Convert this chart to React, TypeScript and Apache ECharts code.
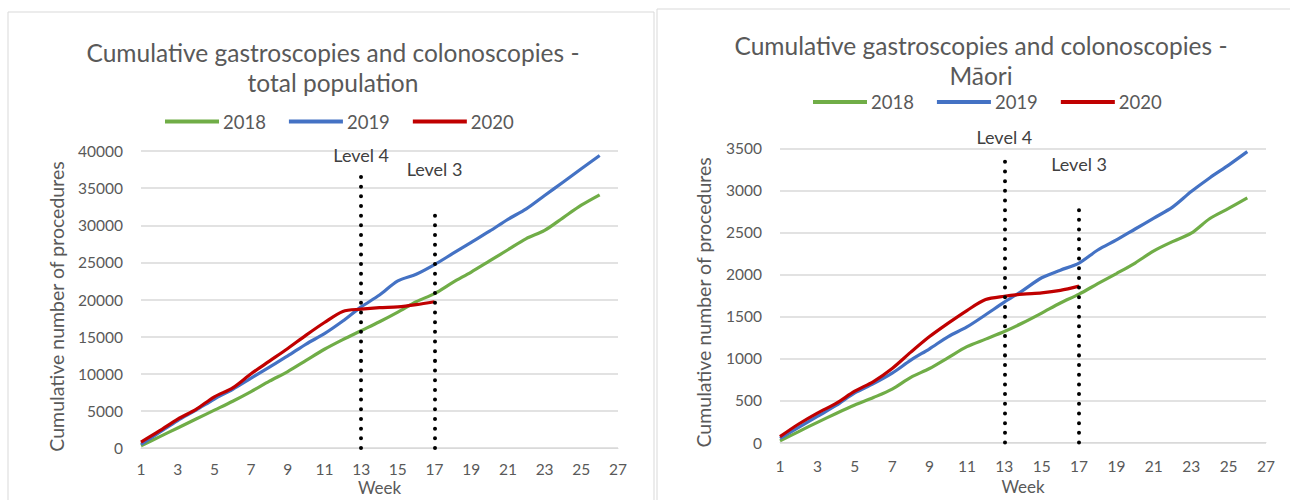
import React, { useEffect, useRef } from "react";
import * as echarts from "echarts";

const weeks = ["1","2","3","4","5","6","7","8","9","10","11","12","13","14","15","16","17","18","19","20","21","22","23","24","25","26","27"];
const seriesNames = ["2018", "2019", "2020"];

// Total population (cumulative procedures by week)
const total2018 = [300,1500,2700,3900,5100,6300,7600,9000,10300,11800,13300,14600,15800,17000,18300,19700,20800,22300,23700,25200,26700,28200,29300,31000,32700,34100];
const total2019 = [500,2100,3700,5100,6600,7900,9400,10900,12400,14000,15400,17100,19000,20600,22500,23400,24700,26200,27700,29200,30800,32200,34000,35800,37600,39400];
const total2020 = [800,2300,3900,5200,6900,8100,10000,11700,13400,15200,16900,18400,18700,18900,19000,19300,19700];

// Māori (cumulative procedures by week)
const maori2018 = [20,130,240,345,445,535,635,775,880,1010,1140,1230,1320,1425,1540,1660,1765,1890,2010,2135,2280,2390,2490,2665,2785,2910];
const maori2019 = [50,180,310,440,590,700,825,980,1115,1260,1375,1520,1670,1810,1960,2050,2135,2290,2410,2540,2670,2800,2985,3150,3300,3460];
const maori2020 = [70,220,350,465,610,725,880,1075,1260,1420,1570,1700,1740,1765,1780,1810,1860];

// Alert level markers: week, top of dotted line, value at label centre
const totalLevels = [
  { name: "Level 4", week: "13", top: 37600, labelAt: 39460 },
  { name: "Level 3", week: "17", top: 32300, labelAt: 37580 },
];
const maoriLevels = [
  { name: "Level 4", week: "13", top: 3430, labelAt: 3634 },
  { name: "Level 3", week: "17", top: 2865, labelAt: 3313 },
];

const colors = ["#70AD47", "#4472C4", "#C00000"];
const FONT = "Lato, sans-serif";
const GREY = "#595959";

function makeSeries(values: number[][], idx: number, levels: any[]) {
  return values.map((data, i) => {
    const s: any = {
      name: seriesNames[i],
      type: "line",
      xAxisIndex: idx,
      yAxisIndex: idx,
      data,
      smooth: 0.3,
      symbol: "none",
      lineStyle: { color: colors[i], width: 3.2 },
      itemStyle: { color: colors[i] },
      z: 2 + i,
    };
    if (i === 2) {
      s.markLine = {
        silent: true,
        symbol: ["none", "none"],
        label: { show: false },
        lineStyle: { color: "#000", width: 4, type: [0.01, 9.67], cap: "round" },
        data: levels.map((l) => [
          { coord: [l.week, 0] },
          { coord: [l.week, l.top] },
        ]),
      };
    }
    return s;
  });
}

function xAxis(idx: number, nameGap: number, margin: number) {
  return {
    type: "category",
    gridIndex: idx,
    data: weeks,
    boundaryGap: false,
    axisLine: { show: true, lineStyle: { color: "#d9d9d9", width: 1 } },
    axisTick: { show: false },
    axisLabel: { interval: 1, color: GREY, fontFamily: FONT, fontSize: 15.5, margin },
    splitLine: { show: false },
    name: "Week",
    nameLocation: "middle",
    nameGap,
    nameMoveOverlap: false,
    nameTextStyle: { color: GREY, fontFamily: FONT, fontSize: 17 },
  };
}

function yAxis(idx: number, max: number, interval: number, nameGap: number) {
  return {
    type: "value",
    gridIndex: idx,
    min: 0,
    max,
    interval,
    axisLine: { show: false },
    axisTick: { show: false },
    axisLabel: { color: GREY, fontFamily: FONT, fontSize: 15.5, margin: 18, formatter: (v: number) => String(v) },
    splitLine: { lineStyle: { color: "#d9d9d9", width: 1.5 } },
    name: "Cumulative number of procedures",
    nameLocation: "middle",
    nameRotate: 90,
    nameGap,
    nameTextStyle: { color: GREY, fontFamily: FONT, fontSize: 19.5, padding: [0, 14, 0, 0] },
  };
}

function legend(left: number, top: number) {
  return {
    data: seriesNames,
    left,
    top,
    padding: 0,
    icon: "rect",
    itemWidth: 54,
    itemHeight: 4,
    itemGap: 23,
    textStyle: { color: GREY, fontFamily: FONT, fontSize: 18.5, lineHeight: 16, padding: [0, 0, 0, -1] },
  };
}

function titleText(id: string, text: string, x: number, y: number) {
  return {
    id,
    type: "text",
    x,
    y,
    style: { text, fill: GREY, font: "24.5px Lato, sans-serif", textAlign: "center", textVerticalAlign: "middle", lineHeight: 22 },
  };
}

export default function App() {
  const ref = useRef<HTMLDivElement>(null);
  useEffect(() => {
    document.body.style.margin = "0";
    if (!ref.current) return;
    const chart = echarts.init(ref.current, null, { renderer: "svg" });
    const baseGraphic: any[] = [
      { id: "frameL", type: "rect", z: -10, shape: { x: 8, y: 12, width: 646, height: 520 }, style: { fill: "#fff", stroke: "#d9d9d9", lineWidth: 1 } },
      { id: "frameR", type: "rect", z: -9, shape: { x: 657, y: 9, width: 660, height: 520 }, style: { fill: "#fff", stroke: "#d9d9d9", lineWidth: 1 } },
      titleText("t1a", "Cumulative gastroscopies and colonoscopies -", 333, 52),
      titleText("t1b", "total population", 333, 82),
      titleText("t2a", "Cumulative gastroscopies and colonoscopies -", 981, 45),
      titleText("t2b", "Māori", 981, 75),
    ];
    chart.setOption({
      animation: false,
      backgroundColor: "#ffffff",
      graphic: baseGraphic,
      legend: [legend(165, 112), legend(813, 92.5)],
      grid: [
        { left: 141, top: 151, width: 477, height: 297, outerBoundsMode: "none", containLabel: false },
        { left: 780, top: 148.3, width: 486, height: 294.2, outerBoundsMode: "none", containLabel: false },
      ],
      xAxis: [xAxis(0, 31.4, 13), xAxis(1, 35, 15)],
      yAxis: [yAxis(0, 40000, 5000, 75), yAxis(1, 3500, 500, 67)],
      series: [
        ...makeSeries([total2018, total2019, total2020], 0, totalLevels),
        ...makeSeries([maori2018, maori2019, maori2020], 1, maoriLevels),
      ],
    });
    const levelTexts: any[] = [];
    [totalLevels, maoriLevels].forEach((levels, g) => {
      levels.forEach((l, k) => {
        const p = chart.convertToPixel({ gridIndex: g }, [weeks.indexOf(l.week), l.labelAt]) as number[];
        levelTexts.push({
          id: `lvl${g}${k}`,
          type: "text",
          x: p[0],
          y: p[1],
          z: 20,
          style: { text: l.name, fill: "#404040", font: "18px Lato, sans-serif", textAlign: "center", textVerticalAlign: "middle" },
        });
      });
    });
    chart.setOption({ graphic: [...baseGraphic, ...levelTexts] });
    return () => chart.dispose();
  }, []);
  return <div ref={ref} style={{ width: 1290, height: 500 }} />;
}
